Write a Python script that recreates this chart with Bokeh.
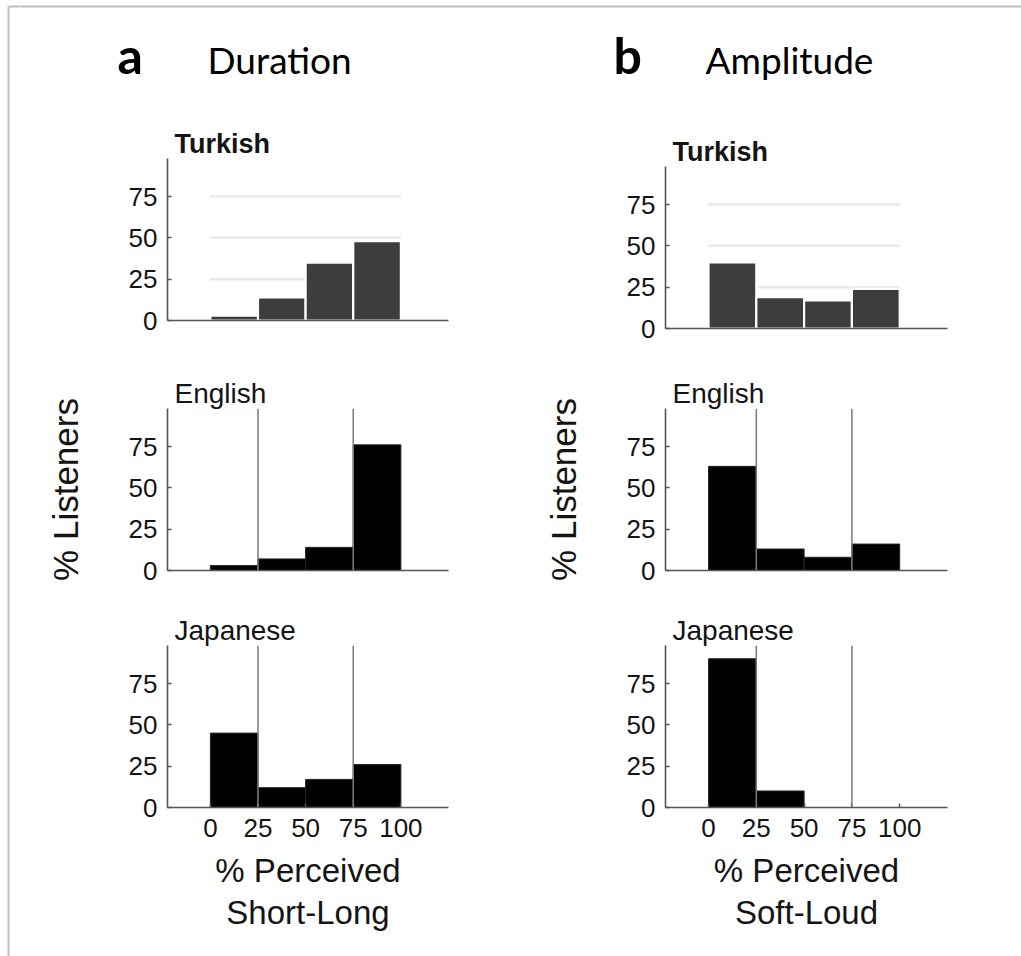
from bokeh.plotting import figure
from bokeh.layouts import row, column
from bokeh.models import Range1d, FixedTicker, Span, Title
from bokeh.core.properties import value
from bokeh.embed import file_html
from bokeh.resources import INLINE

# ---- data -------------------------------------------------------------
bin_left = [0, 25, 50, 75]
bin_right = [25, 50, 75, 100]

dur_turkish = [3, 14, 35, 48]
dur_english = [3, 7, 14, 76]
dur_japanese = [45, 12, 17, 26]

amp_turkish = [40, 19, 17, 24]
amp_english = [63, 13, 8, 16]
amp_japanese = [90, 10, 0, 0]

y_ticks = [0, 25, 50, 75]
x_ticks = [0, 25, 50, 75, 100]
guide_lines = [25, 75]          # category boundaries for English / Japanese
turkish_grid = [25, 50, 75]

# ---- styling ----------------------------------------------------------
FONT = "Liberation Sans"
HEAD_FONT = "Lato"
TEXT = "#141414"
AXIS = "#555555"
EDGE = "#bdbdbd"
X_MIN, X_MAX = -22.5, 125
Y_MAX = 98
PAGE_W, PAGE_H = 1021, 956
EDGE_W = 20


def make_panel(vals, lang, widths, heights, turkish=False, ylabel=None,
               xlabel=None):
    mb_l, fw, mb_r = widths
    mb_t, fh, mb_b = heights
    p = figure(width=mb_l + fw + mb_r, height=mb_t + fh + mb_b,
               x_range=Range1d(X_MIN, X_MAX), y_range=Range1d(0, Y_MAX),
               min_border_left=mb_l, min_border_right=mb_r,
               min_border_top=mb_t, min_border_bottom=mb_b,
               output_backend="svg", toolbar_location=None, title=lang)
    p.outline_line_color = None
    p.xgrid.visible = False
    p.ygrid.visible = False
    p.background_fill_color = "white"
    p.border_fill_color = "white"

    p.title.text_font = FONT
    p.title.text_font_size = "27px" if turkish else "28px"
    p.title.text_font_style = "bold" if turkish else "normal"
    p.title.text_color = TEXT
    p.title.align = "left"
    p.title.offset = 7
    p.title.standoff = 0

    for ax in (p.xaxis[0], p.yaxis[0]):
        ax.axis_line_color = AXIS
        ax.axis_line_width = 1.6
        ax.major_tick_line_color = AXIS
        ax.major_tick_line_width = 1.5
        ax.major_tick_in = 4
        ax.major_tick_out = 0
        ax.minor_tick_line_color = None
        ax.major_label_text_font = FONT
        ax.major_label_text_font_size = "26px"
        ax.major_label_text_color = TEXT

    p.yaxis.ticker = FixedTicker(ticks=y_ticks)
    p.yaxis.major_label_standoff = 10

    if xlabel:
        p.xaxis.ticker = FixedTicker(ticks=x_ticks)
        p.xaxis.major_label_standoff = 11
        p.xaxis.axis_label = xlabel[0]
        p.xaxis.axis_label_text_font = FONT
        p.xaxis.axis_label_text_font_size = "33px"
        p.xaxis.axis_label_text_font_style = "normal"
        p.xaxis.axis_label_text_color = TEXT
        p.xaxis.axis_label_standoff = 12
        sub = Title(text=xlabel[1], align="center", text_font=FONT,
                    text_font_size="33px", text_font_style="normal",
                    text_color=TEXT, standoff=0, text_line_height=0.85)
        p.add_layout(sub, "below")
    else:
        p.xaxis.ticker = FixedTicker(ticks=[])

    if ylabel:
        p.yaxis.axis_label = ylabel
        p.yaxis.axis_label_text_font = FONT
        p.yaxis.axis_label_text_font_size = "35px"
        p.yaxis.axis_label_text_font_style = "normal"
        p.yaxis.axis_label_text_color = TEXT
        p.yaxis.axis_label_standoff = 41

    if turkish:
        p.segment(x0=[bin_left[0]] * len(turkish_grid),
                  x1=[bin_right[-1]] * len(turkish_grid),
                  y0=turkish_grid, y1=turkish_grid,
                  line_color="#e9e9e9", line_width=2.5, level="underlay")
        p.quad(left=bin_left, right=bin_right, bottom=0, top=vals,
               fill_color="#3d3d3d", line_color="white", line_width=2.2)
    else:
        p.quad(left=bin_left, right=bin_right, bottom=0, top=vals,
               fill_color="black", line_color="#262626", line_width=1)
        for g in guide_lines:
            p.add_layout(Span(location=g, dimension="height",
                              line_color="#7a7a7a", line_width=1.5))
    return p


def blank(width, height, x0, y0):
    """Axis-free canvas whose data units are page pixels (y grows down)."""
    f = figure(width=width, height=height,
               x_range=Range1d(x0, x0 + width),
               y_range=Range1d(y0 + height, y0), min_border=0,
               output_backend="svg", toolbar_location=None)
    f.axis.visible = False
    f.grid.visible = False
    f.outline_line_color = None
    return f


# ---- page edge (left strip, full height) -------------------------------
edge = blank(EDGE_W, PAGE_H, 0, 0)
edge.segment(x0=[8, 8], y0=[6, 6], x1=[8, EDGE_W + 2], y1=[PAGE_H + 5, 6],
             line_color=EDGE, line_width=2)

# ---- header with panel letters ----------------------------------------
HEAD_H = 110
header = blank(PAGE_W - EDGE_W, HEAD_H, EDGE_W, 0)
header.segment(x0=[EDGE_W - 2], y0=[6], x1=[PAGE_W], y1=[6],
               line_color=EDGE, line_width=2)
header.text(x=[117, 613], y=[54, 54], text=["a", "b"],
            text_font=value(HEAD_FONT), text_font_size="50px",
            text_font_style="bold", text_color="black",
            text_baseline="alphabetic")
header.text(x=[207, 705], y=[59, 59], text=["Duration", "Amplitude"],
            text_font=value(HEAD_FONT), text_font_size="37px",
            text_color="black", text_baseline="alphabetic")

# ---- duration column ---------------------------------------------------
LW = (147, 281, 62)
left = column(
    make_panel(dur_turkish, "Turkish", LW, (48, 162, 40), turkish=True),
    make_panel(dur_english, "English", LW, (48, 162, 30),
               ylabel="% Listeners"),
    make_panel(dur_japanese, "Japanese", LW, (45, 162, 149),
               xlabel=("% Perceived", "Short-Long")),
)

# ---- amplitude column --------------------------------------------------
RW = (155, 282, 74)
right = column(
    make_panel(amp_turkish, "Turkish", RW, (56, 162, 32), turkish=True),
    make_panel(amp_english, "English", RW, (48, 162, 30),
               ylabel="% Listeners"),
    make_panel(amp_japanese, "Japanese", RW, (45, 162, 149),
               xlabel=("% Perceived", "Soft-Loud")),
)

root = row(edge, column(header, row(left, right)))

with open("out.html", "w") as f:
    f.write(file_html(root, INLINE))
